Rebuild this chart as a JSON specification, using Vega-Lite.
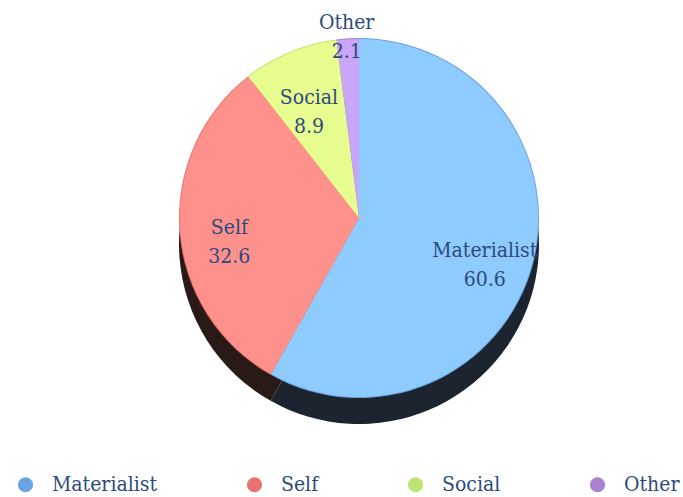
{
  "$schema": "https://vega.github.io/schema/vega-lite/v6.json",
  "width": 648,
  "height": 436,
  "autosize": "none",
  "padding": {"left": 35, "top": 0, "right": 0, "bottom": 61},
  "background": "white",
  "config": {"view": {"stroke": null}},
  "data": {
    "values": [
      {"category": "Materialist", "value": 60.6, "order": 1},
      {"category": "Self", "value": 32.6, "order": 2},
      {"category": "Social", "value": 8.9, "order": 3},
      {"category": "Other", "value": 2.1, "order": 4}
    ]
  },
  "transform": [
    {"calculate": "datum.category + '\\n' + format(datum.value, '.1f')", "as": "label"}
  ],
  "layer": [
    {
      "mark": {"type": "arc", "radius": 180, "yOffset": 26},
      "encoding": {
        "theta": {"field": "value", "type": "quantitative", "stack": true},
        "order": {"field": "order", "type": "quantitative"},
        "fill": {
          "condition": {"test": "datum.category === 'Self'", "value": "#2a1a17"},
          "value": "#1c2430"
        }
      }
    },
    {
      "mark": {"type": "arc", "radius": 180},
      "encoding": {
        "theta": {"field": "value", "type": "quantitative", "stack": true},
        "order": {"field": "order", "type": "quantitative"},
        "color": {
          "field": "category",
          "type": "nominal",
          "sort": ["Materialist", "Self", "Social", "Other"],
          "scale": {
            "domain": ["Materialist", "Self", "Social", "Other"],
            "range": ["#6ca1e6", "#e8736e", "#bfe374", "#a881d0"]
          },
          "legend": {
            "title": null,
            "orient": "none",
            "direction": "horizontal",
            "legendX": -20,
            "legendY": 474,
            "symbolType": "circle",
            "symbolSize": 230,
            "symbolStrokeWidth": 0,
            "symbolOpacity": 1,
            "labelFont": "DejaVu Serif Condensed",
            "labelFontSize": 21,
            "labelColor": "#2c4a7c",
            "labelOffset": 16,
            "columnPadding": 86
          }
        }
      }
    },
    {
      "mark": {"type": "arc", "radius": 179},
      "encoding": {
        "theta": {"field": "value", "type": "quantitative", "stack": true},
        "order": {"field": "order", "type": "quantitative"},
        "fill": {
          "field": "category",
          "type": "nominal",
          "scale": {
            "domain": ["Materialist", "Self", "Social", "Other"],
            "range": ["#8ecbff", "#ff918c", "#e8fd90", "#c9a6f7"]
          },
          "legend": null
        }
      }
    },
    {
      "mark": {
        "type": "text",
        "font": "DejaVu Serif Condensed",
        "fontSize": 21,
        "lineBreak": "\n",
        "lineHeight": 29,
        "color": "#2c4a7c",
        "radius": 130
      },
      "encoding": {
        "theta": {"field": "value", "type": "quantitative", "stack": true},
        "order": {"field": "order", "type": "quantitative"},
        "opacity": {
          "condition": {"test": "datum.category === 'Other'", "value": 0},
          "value": 1
        },
        "text": {"field": "label", "type": "nominal"}
      }
    },
    {
      "mark": {
        "type": "text",
        "font": "DejaVu Serif Condensed",
        "fontSize": 21,
        "lineBreak": "\n",
        "lineHeight": 29,
        "color": "#2c4a7c",
        "radius": 195
      },
      "encoding": {
        "theta": {"field": "value", "type": "quantitative", "stack": true},
        "order": {"field": "order", "type": "quantitative"},
        "opacity": {
          "condition": {"test": "datum.category === 'Other'", "value": 1},
          "value": 0
        },
        "text": {"field": "label", "type": "nominal"}
      }
    }
  ]
}
